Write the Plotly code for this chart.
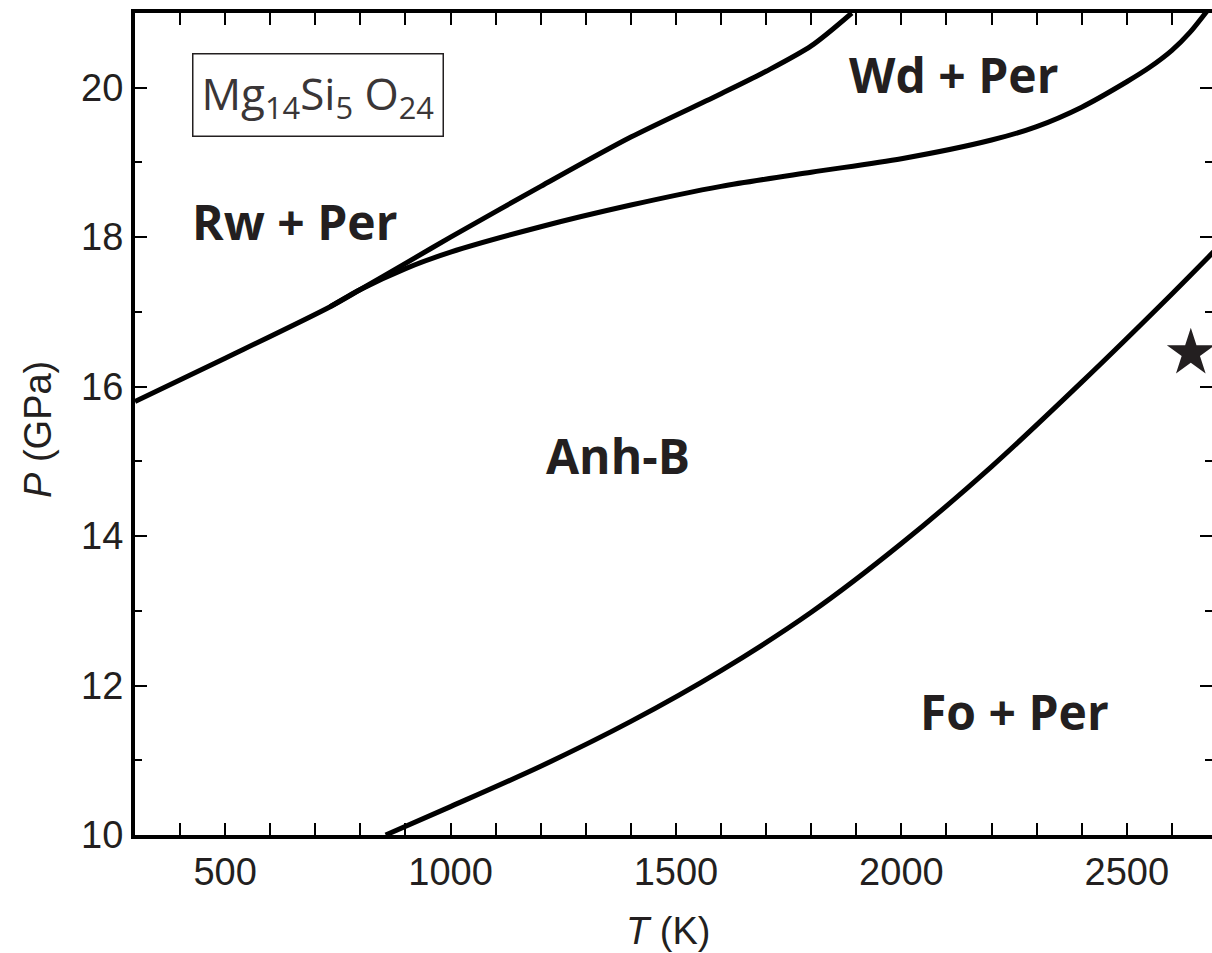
import plotly.graph_objects as go

# Phase boundaries (T in K, P in GPa)
rw_wd_T = [300, 500, 733, 800, 900, 1000, 1200, 1400, 1600, 1700, 1800, 1890]
rw_wd_P = [15.80, 16.38, 17.07, 17.30, 17.65, 18.00, 18.68, 19.34, 19.92, 20.22, 20.56, 21.0]

wd_anh_T = [733, 800, 900, 1000, 1200, 1400, 1600, 1800, 2000, 2200, 2300, 2400, 2500, 2550, 2600, 2640, 2700]
wd_anh_P = [17.07, 17.30, 17.58, 17.80, 18.14, 18.43, 18.68, 18.87, 19.05, 19.30, 19.48, 19.74, 20.08, 20.27, 20.50, 20.74, 21.20]

fo_anh_T = [856, 1000, 1200, 1400, 1600, 1800, 2000, 2200, 2400, 2600, 2700]
fo_anh_P = [10.0, 10.38, 10.92, 11.52, 12.20, 12.98, 13.90, 14.93, 16.06, 17.24, 17.85]

star_T = [2642]
star_P = [16.45]

region_labels = ["Rw + Per", "Wd + Per", "Anh-B", "Fo + Per"]
region_T = [653, 2116, 1371, 2251]
region_P = [18.21, 20.18, 15.08, 11.65]

x_range = [300, 2689]
y_range = [10, 21]
x_ticks = [500, 1000, 1500, 2000, 2500]
y_ticks = [10, 12, 14, 16, 18, 20]

INK = "#231f20"
LW = 5
SANS = "Liberation Sans Narrow, Arial Narrow, Liberation Sans, Arial, sans-serif"

fig = go.Figure()
for xs, ys in [(rw_wd_T, rw_wd_P), (wd_anh_T, wd_anh_P), (fo_anh_T, fo_anh_P)]:
    fig.add_trace(go.Scatter(x=xs, y=ys, mode="lines",
                             line=dict(color="black", width=LW, shape="spline", smoothing=0.8),
                             showlegend=False, hoverinfo="skip"))

fig.add_trace(go.Scatter(x=star_T, y=star_P, mode="markers",
                         marker=dict(symbol="star", size=36, color=INK, line=dict(width=0)),
                         showlegend=False, hoverinfo="skip", cliponaxis=False))

# invisible trace for right-hand tick axis
fig.add_trace(go.Scatter(x=[None], y=[None], yaxis="y2", showlegend=False, hoverinfo="skip"))

for lab, t, p in zip(region_labels, region_T, region_P):
    fig.add_annotation(x=t, y=p, text=f"<b>{lab}</b>", showarrow=False,
                       font=dict(family="Open Sans", size=48, color=INK))

fig.add_annotation(x=705, y=19.9, text="Mg<sub>14</sub>Si<sub>5</sub> O<sub>24</sub>",
                   showarrow=False, font=dict(family="Open Sans", size=44, color="#3a3637"),
                   bordercolor=INK, borderwidth=1.5, borderpad=8, bgcolor="white")

fig.add_annotation(xref="paper", yref="paper", x=(668 - 135) / 1077, y=-(931 - 835) / 822,
                   text="<i>T</i> (K)", showarrow=False, yanchor="middle",
                   font=dict(family=SANS, size=38, color=INK))
fig.add_annotation(xref="paper", yref="paper", x=-(135 - 38) / 1077, y=(835 - 430) / 822,
                   text="<i>P</i> (GPa)", showarrow=False, textangle=-90,
                   xanchor="center", yanchor="middle",
                   font=dict(family=SANS, size=38, color=INK))

tickfont = dict(family=SANS, size=38, color=INK)

fig.update_layout(
    width=1212, height=953,
    margin=dict(l=135, r=0, t=13, b=118),
    paper_bgcolor="white", plot_bgcolor="white",
    xaxis=dict(range=x_range, tickvals=x_ticks, ticks="inside", ticklen=12, tickwidth=2,
               tickcolor="black", showline=True, linewidth=4, linecolor="black",
               mirror="allticks", showgrid=False, zeroline=False, tickfont=tickfont,
               minor=dict(dtick=100, tick0=0, ticks="inside", ticklen=7, tickwidth=2,
                          tickcolor="black", showgrid=False)),
    yaxis=dict(range=y_range, tickvals=y_ticks, ticks="inside", ticklen=12, tickwidth=2,
               tickcolor="black", showline=True, linewidth=4, linecolor="black",
               mirror=False, showgrid=False, zeroline=False, tickfont=tickfont,
               minor=dict(dtick=1, tick0=0, ticks="inside", ticklen=7, tickwidth=2,
                          tickcolor="black", showgrid=False)),
    yaxis2=dict(range=y_range, overlaying="y", side="right", matches="y", tickvals=y_ticks,
                ticks="inside", ticklen=12, tickwidth=2, tickcolor="black",
                showticklabels=False, showline=False, showgrid=False, zeroline=False,
                minor=dict(dtick=1, tick0=0, ticks="inside", ticklen=7, tickwidth=2,
                           tickcolor="black", showgrid=False)),
)

fig.write_html("out.html")
